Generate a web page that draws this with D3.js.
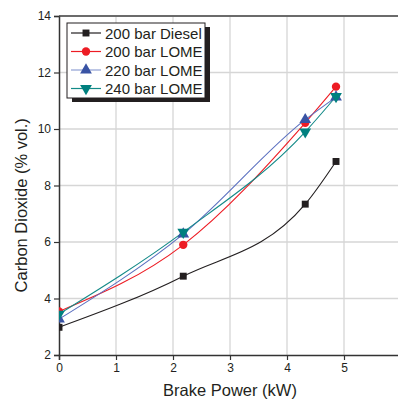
<!DOCTYPE html>
<html>
<head>
<meta charset="utf-8">
<script src="https://cdn.jsdelivr.net/npm/d3@7"></script>
<style>
  body { margin: 0; background: #fff; }
  svg { font-family: Arial, "Liberation Sans", sans-serif; }
</style>
</head>
<body>
<div id="chart"></div>
<script>
// values
const power = [0, 2.18, 4.32, 4.86];
const diesel200 = [2.98, 4.79, 7.34, 8.85];
const lome200 = [3.54, 5.9, 10.22, 11.5];
const lome220 = [3.27, 6.28, 10.33, 11.13];
const lome240 = [3.45, 6.35, 9.9, 11.15];
const xTicks = [0, 1, 2, 3, 4, 5, 6];
const yTicks = [2, 4, 6, 8, 10, 12, 14];

const series = [
    { name: '200 bar Diesel', values: diesel200, color: '#231f20', line: '#231f20', symbol: d3.symbolSquare },
    { name: '200 bar LOME', values: lome200, color: '#ed1c24', line: '#ed1c24', symbol: d3.symbolCircle },
    { name: '220 bar LOME', values: lome220, color: '#3953a4', line: '#5b70c0', symbol: 'up' },
    { name: '240 bar LOME', values: lome240, color: '#00807f', line: '#138a88', symbol: 'down' }
];

const width = 398, height = 401;
const margin = { top: 16, right: 0, bottom: 46, left: 59 };

const svg = d3.select('#chart').append('svg')
    .attr('width', width)
    .attr('height', height);

const x = d3.scaleLinear().domain([0, 6]).range([margin.left, 401]);
const y = d3.scaleLinear().domain([2, 14]).range([355, margin.top]);

svg.append('defs').append('clipPath').attr('id', 'plot-clip')
    .append('rect')
    .attr('x', margin.left).attr('y', margin.top - 10)
    .attr('width', width - margin.left).attr('height', 355 - margin.top + 10);

// grid
svg.append('g').selectAll('line').data(xTicks.slice(1)).enter().append('line')
    .attr('x1', d => x(d)).attr('x2', d => x(d))
    .attr('y1', y(14)).attr('y2', y(2))
    .attr('stroke', '#d6d6d6').attr('stroke-width', 1.3);
svg.append('g').selectAll('line').data(yTicks.slice(1)).enter().append('line')
    .attr('x1', x(0)).attr('x2', width)
    .attr('y1', d => y(d)).attr('y2', d => y(d))
    .attr('stroke', '#d6d6d6').attr('stroke-width', 1.3);

// axes
const xAxis = svg.append('g')
    .attr('transform', `translate(0,${y(2)})`)
    .call(d3.axisBottom(x).tickValues(xTicks).tickSize(5).tickPadding(3).tickFormat(d3.format('d')));
const yAxis = svg.append('g')
    .attr('transform', `translate(${x(0)},0)`)
    .call(d3.axisLeft(y).tickValues(yTicks).tickSize(5).tickPadding(3).tickFormat(d3.format('d')));
[xAxis, yAxis].forEach(a => {
    a.select('.domain').attr('stroke', '#333').attr('stroke-width', 1.5);
    a.selectAll('.tick line').attr('stroke', '#333').attr('stroke-width', 1.2);
    a.selectAll('.tick text').attr('font-size', 12).attr('fill', '#231f20');
});
// top frame line
svg.append('line')
    .attr('x1', x(0)).attr('x2', width)
    .attr('y1', y(14)).attr('y2', y(14))
    .attr('stroke', '#444').attr('stroke-width', 1.5);

// axis titles
svg.append('text')
    .attr('x', 230).attr('y', 396)
    .attr('text-anchor', 'middle')
    .attr('font-size', 16.5).attr('fill', '#231f20')
    .text('Brake Power (kW)');
svg.append('text')
    .attr('transform', `translate(27,${y(7.3)}) rotate(-90)`)
    .attr('text-anchor', 'middle')
    .attr('font-size', 16.5).attr('fill', '#231f20')
    .text('Carbon Dioxide (% vol.)');

const triUp = d3.symbol().type(d3.symbolTriangle).size(60);
function markerPath(sym) {
    if (sym === 'up' || sym === 'down') return triUp();
    return d3.symbol().type(sym).size(sym === d3.symbolSquare ? 48 : 55)();
}

const plot = svg.append('g').attr('clip-path', 'url(#plot-clip)');
const line = d3.line()
    .x((d, i) => x(power[i]))
    .y(d => y(d))
    .curve(d3.curveMonotoneX);

series.forEach(s => {
    plot.append('path')
        .datum(s.values)
        .attr('d', line)
        .attr('fill', 'none')
        .attr('stroke', s.line)
        .attr('stroke-width', 1.1);
});
series.forEach(s => {
    plot.selectAll(null).data(s.values).enter().append('path')
        .attr('d', markerPath(s.symbol))
        .attr('transform', (d, i) => `translate(${x(power[i])},${y(d)})` + (s.symbol === 'down' ? ' rotate(180)' : ''))
        .attr('fill', s.color);
});

// legend
const lg = svg.append('g').attr('transform', 'translate(67,23)');
lg.append('rect').attr('x', 5).attr('y', 4).attr('width', 138).attr('height', 75).attr('fill', '#231f20');
lg.append('rect').attr('x', 0).attr('y', 0).attr('width', 138).attr('height', 75)
    .attr('fill', '#fff').attr('stroke', '#231f20').attr('stroke-width', 1);
const items = lg.selectAll('.legend-item').data(series).enter().append('g')
    .attr('class', 'legend-item')
    .attr('transform', (d, i) => `translate(0,${10 + i * 18.5})`);
items.append('line')
    .attr('x1', 4).attr('x2', 34).attr('y1', 0).attr('y2', 0)
    .attr('stroke', d => d.symbol === 'up' ? '#8f9fd3' : d.line).attr('stroke-width', 1.2);
items.append('path')
    .attr('d', d => markerPath(d.symbol))
    .attr('transform', d => 'translate(19,0)' + (d.symbol === 'down' ? ' rotate(180)' : ''))
    .attr('fill', d => d.color);
items.append('text')
    .attr('x', 38).attr('y', 5.5)
    .attr('font-size', 15).attr('fill', '#231f20')
    .text(d => d.name);
</script>
</body>
</html>
